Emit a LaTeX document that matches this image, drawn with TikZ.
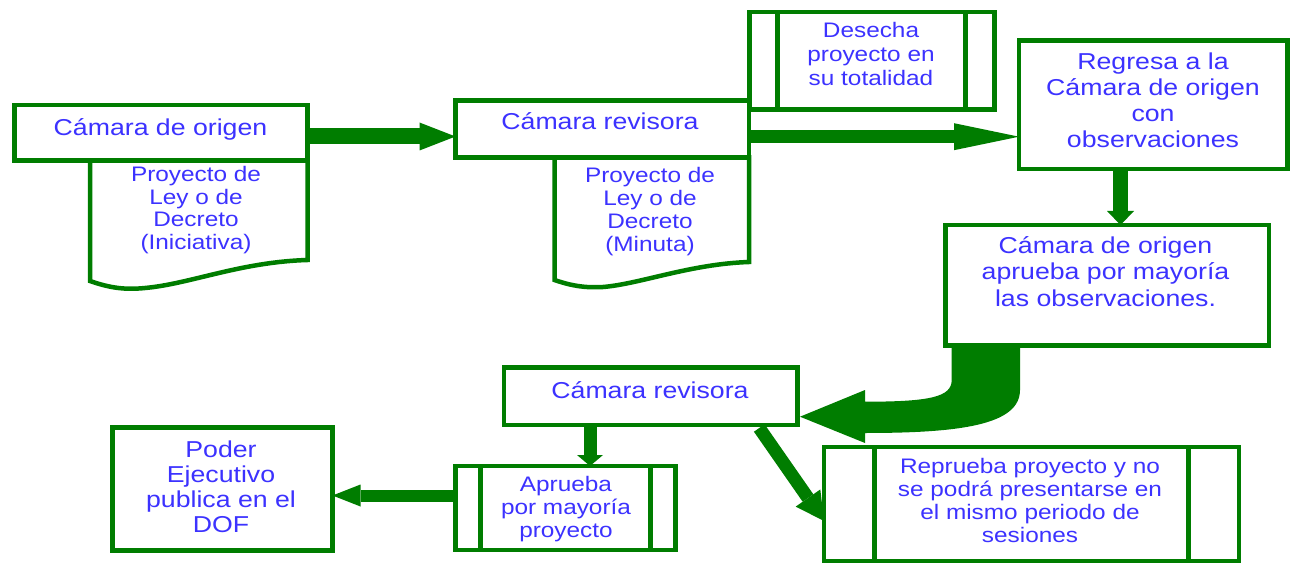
\documentclass[tikz,border=0pt]{standalone}
\usepackage{fontspec}
\setmainfont[FakeStretch=1.16]{Liberation Sans}
\usetikzlibrary{arrows.meta,calc}
\pgfdeclarelayer{bg}
\pgfsetlayers{bg,main}
\definecolor{gr}{RGB}{0,125,0}
\definecolor{bl}{RGB}{60,50,255}
\makeatletter
\newcommand\myTop{\rule{0pt}{\f@size pt}}
\newcommand\myBot{\rule[-0.3\dimexpr\f@size pt\relax]{0pt}{0.3\dimexpr\f@size pt\relax}}
\makeatother
\lineskiplimit=-100pt
\tikzset{
  box/.style={draw=gr, line width=4.5pt, fill=white, outer sep=0pt, inner sep=0pt},
  sideline/.style={draw=gr, line width=4.5pt},
  docshape/.style={draw=gr, line width=4.5pt, fill=white, line join=miter},
  big/.style={text=bl, align=center, inner sep=0pt, font={\fontsize{23}{#1}\selectfont}},
  big/.default=25.6,
  small/.style={text=bl, align=center, inner sep=0pt, font={\fontsize{21}{#1}\selectfont}},
  small/.default=23,
  blk/.style={draw=gr, line width=#1},
}
\begin{document}
\begin{tikzpicture}[x=1pt,y=-1pt]
\useasboundingbox (0,0) rectangle (1290,564);
% ---------- boxes ----------
\node[box, minimum width=293pt,   minimum height=55.5pt]  (b1)  at (161,132.75) {};
\node[box, minimum width=293.5pt, minimum height=57pt]    (b2)  at (602.25,129) {};
\node[box, minimum width=245pt,   minimum height=97.5pt]  (des) at (872,60.75) {};
\node[box, minimum width=268.5pt, minimum height=128.5pt] (reg) at (1153.25,104.75) {};
\node[box, minimum width=323.5pt, minimum height=120.5pt] (ora) at (1107.25,285.25) {};
\node[box, minimum width=293.5pt, minimum height=57.5pt]  (b3)  at (650.75,396.25) {};
\node[box, minimum width=220pt,   minimum height=84pt]    (apr) at (565.5,508) {};
\node[box, minimum width=220pt,   minimum height=123pt]   (pod) at (222.5,489) {};
\node[box, minimum width=415pt,   minimum height=114pt]   (rep) at (1031.5,504) {};
% inner side lines of the process boxes
\draw[sideline] ($(des.north west)+(28,0)$) -- ($(des.south west)+(28,0)$);
\draw[sideline] ($(des.north east)+(-29,0)$) -- ($(des.south east)+(-29,0)$);
\draw[sideline] ($(apr.north west)+(25,0)$) -- ($(apr.south west)+(25,0)$);
\draw[sideline] ($(apr.north east)+(-25,0)$) -- ($(apr.south east)+(-25,0)$);
\draw[sideline] ($(rep.north west)+(50.5,0)$) -- ($(rep.south west)+(50.5,0)$);
\draw[sideline] ($(rep.north east)+(-50.5,0)$) -- ($(rep.south east)+(-50.5,0)$);
% ---------- texts ----------
\node[big] (b1t) at (160.5,127.65) {\myTop Cámara de origen\myBot};
\node[small=22.5] (doc1t) at (196,208.15) {\myTop Proyecto de\\Ley o de\\Decreto\\(Iniciativa)\myBot};
\node[big] (b2t) at (600,121.95) {\myTop Cámara revisora\myBot};
\node[small=22.67] (doc2t) at (650,209.65) {\myTop Proyecto de\\Ley o de\\Decreto\\(Minuta)\myBot};
\node[small=24] (dest) at (871,54.65) {\myTop Desecha\\proyecto en\\su totalidad\myBot};
\node[big=25.67] (regt) at (1153,100.45) {\myTop Regresa a la\\Cámara de origen\\con\\observaciones\myBot};
\node[big=26.5] (orat) at (1105.5,271.45) {\myTop Cámara de origen\\aprueba por mayoría\\las observaciones.\myBot};
\node[big] (b3t) at (650,389.95) {\myTop Cámara revisora\myBot};
\node[small=23] (aprt) at (566,506.65) {\myTop Aprueba\\por mayoría\\proyecto\myBot};
\node[big=25.33] (podt) at (221,486.95) {\myTop Poder\\Ejecutivo\\publica en el\\DOF\myBot};
\node[small=23] (rept) at (1030,500.45) {\myTop Reprueba proyecto y no\\se podrá presentarse en\\el mismo periodo de\\sesiones\myBot};
% ---------- background: documents and arrows ----------
\begin{pgfonlayer}{bg}
\draw[docshape] (b1.south east) -- (90,160.5) -- (90,281)
  .. controls (110,288) and (125,290) .. (145,288)
  .. controls (190,284) and (240,262) .. (307.5,260) -- cycle;
\draw[docshape] (b2.south east) -- (554.5,157.5) -- (554.5,280)
  .. controls (572,286) and (585,288) .. (603,287)
  .. controls (640,284) and (690,264) .. (749,262) -- cycle;
\draw[blk=16pt, -{Triangle[length=36pt,width=28pt,line width=0pt]}]
  ($(b1.east)+(0,3.75)$) -- ($(b2.west)+(0,7.5)$);
\draw[blk=13pt, -{Triangle[length=65pt,width=27pt,line width=0pt]}]
  ($(b2.east)+(0,7.7)$) -- ($(reg.west)+(0,31.95)$);
\draw[blk=15pt, -{Triangle[length=14pt,width=27pt,line width=0pt]}]
  ($(reg.south)+(-32.75,0)$) -- ($(ora.north)+(13.25,0)$);
\draw[blk=13pt, -{Triangle[length=11pt,width=26pt,line width=0pt]}]
  ($(b3.south)+(-60.75,0)$) -- ($(apr.north)+(24.5,0)$);
\draw[blk=12pt, -{Triangle[length=28pt,width=22pt,line width=0pt]}]
  ($(apr.west)+(0,-12.5)$) -- ($(pod.east)+(0,6.5)$);
\draw[blk=13pt, -{Triangle[length=28pt,width=30pt,line width=0pt]}]
  ($(b3.south)+(108.5,3)$) -- ($(rep.west)+(0,17)$);
% curved block arrow from ora to b3
\coordinate (cs) at ($(ora.south west)+(6.2,0)$);
\coordinate (ct) at ($(b3.east)+(2.5,20.45)$);
\fill[gr] (cs) -- (951.7,380) .. controls (951.7,397) and (930,401.7) .. (865,401.7)
  -- (865,390) -- (ct) -- (865,443) -- (865,433)
  .. controls (960,433) and (1020,425) .. (1020,390) -- (1020,345.5) -- cycle;
\end{pgfonlayer}
\end{tikzpicture}
\end{document}
